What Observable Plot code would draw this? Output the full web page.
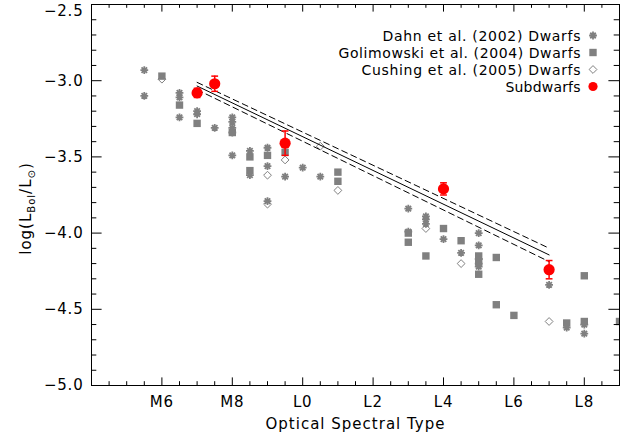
<!DOCTYPE html>
<html><head><meta charset="utf-8">
<script src="https://cdn.jsdelivr.net/npm/d3@7"></script>
<script src="https://cdn.jsdelivr.net/npm/@observablehq/plot@0.6"></script>
<style>
body{margin:0;background:#fff;}
#chart{width:633px;height:435px;}
text{font-family:"DejaVu Sans",sans-serif;}
</style>
</head><body><div id="chart"></div>
<script>
// Spectral type coded numerically: M6 = 6, M8 = 8, L0 = 10, L2 = 12 ... L8 = 18
const xTickValues = [6, 8, 10, 12, 14, 16, 18];
const xTickLabels = ["M6", "M8", "L0", "L2", "L4", "L6", "L8"];
const yTickValues = [-2.5, -3.0, -3.5, -4.0, -4.5, -5.0];

// Dahn et al. (2002) dwarfs (asterisks)
const dahnType = [5.5, 5.5, 6.5, 6.5, 6.5, 7, 7, 7.5, 8, 8, 8, 8, 8, 8.5, 8.5, 9, 9, 9, 9.5, 10, 10.5,
  13, 13, 13.5, 13.5, 13.5, 14, 14.5, 15, 15, 15, 15, 15, 17, 17.5, 18, 18];
const dahnLogL = [-2.93, -3.10, -3.08, -3.11, -3.24, -3.20, -3.22, -3.31, -3.24, -3.27, -3.31, -3.34, -3.49, -3.46, -3.62, -3.44, -3.56, -3.79, -3.63, -3.57, -3.63,
  -3.84, -3.99, -3.89, -3.91, -3.94, -4.04, -4.13, -4.00, -4.08, -4.17, -4.20, -4.22, -4.34, -4.62, -4.60, -4.66];

// Golimowski et al. (2004) dwarfs (filled squares)
const goliType = [6, 6.5, 7, 8, 8.5, 8.5, 9, 9.5, 11, 11, 13, 13, 13.5, 14, 14.5, 15, 15, 15, 15.5, 15.5, 16, 17.5, 18, 18, 19];
const goliLogL = [-2.97, -3.16, -3.28, -3.34, -3.50, -3.59, -3.49, -3.47, -3.60, -3.66, -4.00, -4.06, -4.15, -3.97, -4.05, -4.15, -4.19, -4.27, -4.16, -4.47, -4.54, -4.59, -4.28, -4.58, -4.58];

// Cushing et al. (2005) dwarfs (open diamonds)
const cushType = [6, 9, 9, 9.5, 10.5, 11, 13.5, 14.5, 17];
const cushLogL = [-2.99, -3.62, -3.81, -3.52, -3.43, -3.72, -3.97, -4.20, -4.58];

// Subdwarfs (red) with error bars
const subType = [7, 7.5, 9.5, 14, 17];
const subLogL = [-3.08, -3.02, -3.41, -3.71, -4.24];
const subErr = [0.03, 0.05, 0.08, 0.04, 0.06];

// Linear fit and its band
const fitType = [7, 17];
const fitLogL = [-3.035, -4.143];
const fitUpper = [-3.011, -4.099];
const fitLower = [-3.059, -4.187];

const legendLabels = ["Dahn et al. (2002) Dwarfs", "Golimowski et al. (2004) Dwarfs", "Cushing et al. (2005) Dwarfs", "Subdwarfs"];
const legendWidths = [198, 242, 219, 75];

const pts = (t, v) => t.map((d, i) => ({t: d, v: v[i]}));
const dahn = pts(dahnType, dahnLogL);
const goli = pts(goliType, goliLogL);
const cush = pts(cushType, cushLogL);
const sub = subType.map((d, i) => ({t: d, v: subLogL[i], lo: subLogL[i] - subErr[i], hi: subLogL[i] + subErr[i]}));
const fit = fitType.map((d, i) => ({t: d, v: fitLogL[i], up: fitUpper[i], lo: fitLower[i]}));

const rad = s => Math.sqrt(s / Math.PI);
const asteriskSym = {draw(c, s) { const r = rad(s), d = r * Math.SQRT1_2;
  c.moveTo(-r, 0); c.lineTo(r, 0); c.moveTo(0, -r); c.lineTo(0, r);
  c.moveTo(-d, -d); c.lineTo(d, d); c.moveTo(-d, d); c.lineTo(d, -d); }};
const squareSym = {draw(c, s) { const r = rad(s); c.rect(-r, -r, 2 * r, 2 * r); }};
const diamondSym = {draw(c, s) { const r = rad(s);
  c.moveTo(0, -r); c.lineTo(r, 0); c.lineTo(0, r); c.lineTo(-r, 0); c.closePath(); }};
const capSym = {draw(c, s) { const r = rad(s); c.moveTo(-r, 0); c.lineTo(r, 0); }};

const gray = "#808080";
const red = "#ff0000";
const W = 633, H = 435, mL = 91, mR = 14, mT = 4, mB = 50;
const pw = W - mL - mR, ph = H - mT - mB;

const xMinor = d3.range(4, 19.001, 0.5).filter(d => !xTickValues.includes(d));
const yMinor = d3.range(-50, -24.99, 1).map(d => d / 10).filter(d => !yTickValues.some(v => Math.abs(v - d) < 1e-9));
const fmt = d3.format(".1f");
const yTop = yTickValues.filter(d => d === -2.5);
const yRest = yTickValues.filter(d => d !== -2.5);

const plot = Plot.plot({
  width: W, height: H,
  marginLeft: mL, marginRight: mR, marginTop: mT, marginBottom: mB,
  x: {domain: [4, 19], axis: null},
  y: {domain: [-5, -2.5], axis: null},
  style: {fontFamily: "DejaVu Sans, sans-serif", fontSize: "14px", background: "#fff", overflow: "visible"},
  marks: [
    Plot.dot(goli, {x: "t", y: "v", symbol: squareSym, r: 3.7, fill: gray, stroke: "none", clip: true}),
    Plot.dot(cush, {x: "t", y: "v", symbol: diamondSym, r: 3.9, fill: "none", stroke: gray, strokeWidth: 1, clip: true}),
    Plot.dot(dahn, {x: "t", y: "v", symbol: asteriskSym, r: 3.9, fill: "none", stroke: gray, strokeWidth: 1.8, clip: true}),
    Plot.line(fit, {x: "t", y: "v", stroke: "#000", strokeWidth: 1}),
    Plot.line(fit, {x: "t", y: "up", stroke: "#000", strokeWidth: 1, strokeDasharray: "6,4"}),
    Plot.line(fit, {x: "t", y: "lo", stroke: "#000", strokeWidth: 1, strokeDasharray: "6,4"}),
    Plot.ruleX(sub, {x: "t", y1: "lo", y2: "hi", stroke: red, strokeWidth: 1.5}),
    Plot.dot(sub, {x: "t", y: "lo", symbol: capSym, r: 3.4, stroke: red, strokeWidth: 1.5}),
    Plot.dot(sub, {x: "t", y: "hi", symbol: capSym, r: 3.4, stroke: red, strokeWidth: 1.5}),
    Plot.dot(sub, {x: "t", y: "v", r: 5.6, fill: red, stroke: "none"}),
    // ticks (inward)
    Plot.tickX(xTickValues, {x: d => d, insetTop: ph - 7.6, stroke: "#000"}),
    Plot.tickX(xMinor, {x: d => d, insetTop: ph - 3.8, stroke: "#000"}),
    Plot.tickX(xTickValues, {x: d => d, insetBottom: ph - 7.6, stroke: "#000"}),
    Plot.tickX(xMinor, {x: d => d, insetBottom: ph - 3.8, stroke: "#000"}),
    Plot.tickY(yTickValues, {y: d => d, insetRight: pw - 10.6, stroke: "#000"}),
    Plot.tickY(yMinor, {y: d => d, insetRight: pw - 5.3, stroke: "#000"}),
    Plot.tickY(yTickValues, {y: d => d, insetLeft: pw - 10.6, stroke: "#000"}),
    Plot.tickY(yMinor, {y: d => d, insetLeft: pw - 5.3, stroke: "#000"}),
    Plot.frame({stroke: "#000", strokeWidth: 1}),
    // tick labels
    Plot.text(xTickValues, {x: d => d, text: (d, i) => xTickLabels[i], frameAnchor: "bottom", dy: 21, fontSize: 15, fill: "#000"}),
    Plot.text(yRest, {y: d => d, text: d => fmt(d), frameAnchor: "left", dx: -8, textAnchor: "end", fontSize: 15, fill: "#000"}),
    Plot.text(yTop, {y: d => d, text: d => fmt(d), frameAnchor: "left", dx: -8, dy: 7, textAnchor: "end", fontSize: 15, fill: "#000"})
  ]
});
document.getElementById("chart").appendChild(plot);

const svg = d3.select(plot);
svg.selectAll('g[aria-label="text"] text').attr("letter-spacing", "0.8px");
// x-axis title
svg.append("text").attr("x", mL + pw / 2).attr("y", 429).attr("text-anchor", "middle")
  .attr("font-size", 15).attr("fill", "#000").attr("textLength", 179).attr("lengthAdjust", "spacing")
  .text("Optical Spectral Type");
// y-axis title
const yl = svg.append("text").attr("transform", `translate(31,${mT + ph / 2 + 14}) rotate(-90)`)
  .attr("text-anchor", "middle").attr("font-size", 15).attr("fill", "#000")
  .attr("letter-spacing", "1px");
yl.append("tspan").text("log(L");
yl.append("tspan").attr("font-size", 10).attr("dy", 3.5).text("Bol");
yl.append("tspan").attr("dy", -3.5).text("/L");
yl.append("tspan").attr("font-size", 10).attr("dy", 3.5).text("\u2299");
yl.append("tspan").attr("dy", -3.5).text(")");

// legend
const legX = 593, legTextX = 580.5, legY0 = 35.5, legDy = 17;
const legSyms = [
  {sym: asteriskSym, r: 3.9, fill: "none", stroke: gray, sw: 1.8},
  {sym: squareSym, r: 3.7, fill: gray, stroke: "none", sw: 0},
  {sym: diamondSym, r: 3.9, fill: "none", stroke: gray, sw: 1},
  {sym: d3.symbolCircle, r: 4.6, fill: red, stroke: "none", sw: 0}
];
legendLabels.forEach((lab, i) => {
  const y = legY0 + i * legDy;
  svg.append("text").attr("x", legTextX).attr("y", y).attr("dy", "0.36em").attr("text-anchor", "end")
    .attr("font-size", 14).attr("fill", "#000")
    .attr("textLength", legendWidths[i]).attr("lengthAdjust", "spacing").text(lab);
  const s = legSyms[i];
  svg.append("path").attr("transform", `translate(${legX},${y})`)
    .attr("d", d3.symbol(s.sym, Math.PI * s.r * s.r)())
    .attr("fill", s.fill).attr("stroke", s.stroke).attr("stroke-width", s.sw);
});
</script>
</body></html>
